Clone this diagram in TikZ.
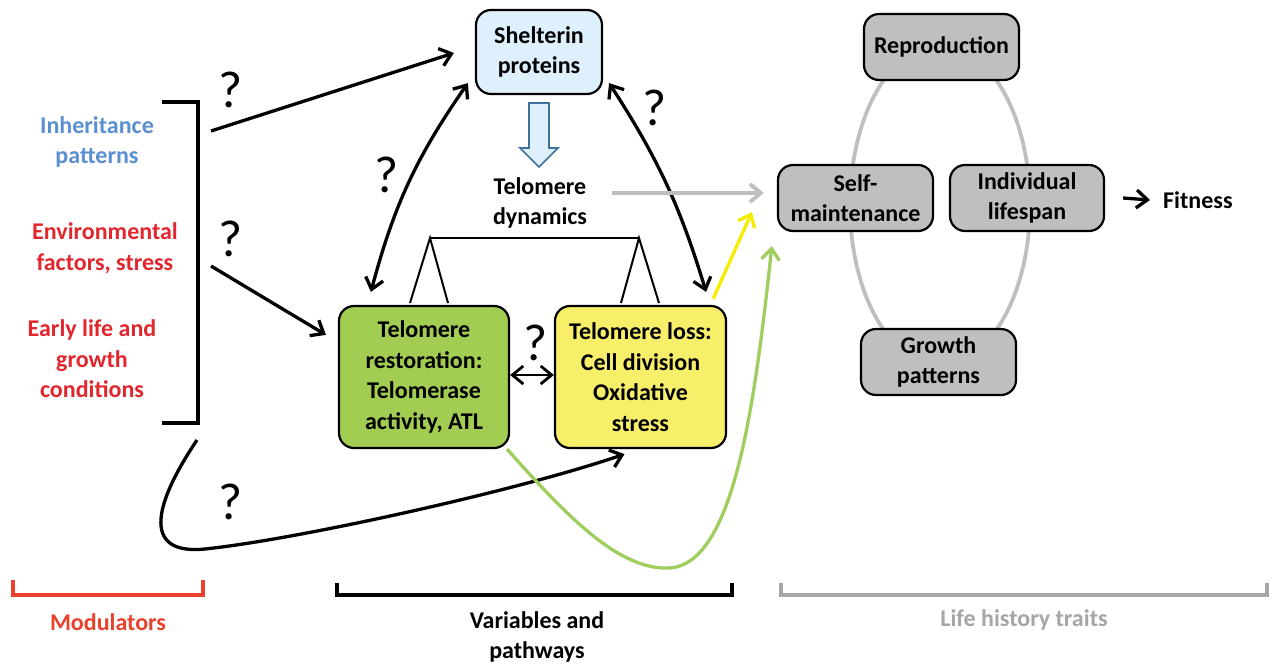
\documentclass[tikz,border=0pt]{standalone}
\usepackage{fontspec}
\setmainfont{Carlito}
\usetikzlibrary{arrows.meta}
\definecolor{shelblue}{HTML}{DDF0FB}
\definecolor{arrblue}{HTML}{41719C}
\definecolor{greenbox}{HTML}{A2CC52}
\definecolor{yellowbox}{HTML}{F7EE6A}
\definecolor{graybox}{HTML}{BFBFBF}
\definecolor{inhblue}{HTML}{5A8FD2}
\definecolor{envred}{HTML}{E2262D}
\definecolor{modred}{HTML}{E8412C}
\definecolor{lhgray}{HTML}{A6A6A6}
\definecolor{brightyellow}{HTML}{F5EC00}
\definecolor{lightgreen}{HTML}{9FCE5E}
\tikzset{
  txt/.style={font=\fontsize{24}{30.5}\selectfont\bfseries, align=center, inner sep=0pt},
  qm/.style={font=\fontsize{52}{56}\selectfont, inner sep=0pt},
  box/.style={txt, draw=black, line width=2.2pt, rounded corners=15pt},
  tip/.style={-{Straight Barb[length=11pt,width=18pt]}},
  dtip/.style={{Straight Barb[length=11pt,width=18pt]}-{Straight Barb[length=11pt,width=18pt]}},
  blk/.style={line width=3.3pt, black},
}
\begin{document}
\begin{tikzpicture}[x=1pt,y=-1pt]
\useasboundingbox (0,0) rectangle (1279,664);
\fill[white] (0,0) rectangle (1279,664);

% life history ellipse
\draw[graybox, line width=3.8pt] (940,205) ellipse [x radius=90, y radius=160];

% boxes
\node[box, fill=shelblue, minimum width=126pt, minimum height=84pt] (shel) at (539,52) {Shelterin\\proteins};
\node[box, fill=greenbox, minimum width=170pt, minimum height=142pt] (green) at (424,377) {Telomere\\restoration:\\Telomerase\\activity, ATL};
\node[box, fill=yellowbox, minimum width=171pt, minimum height=142pt] (yellow) at (640.5,377) {Telomere loss:\\Cell division\\Oxidative\\stress};
\node[box, fill=graybox, minimum width=155pt, minimum height=66pt] (repro) at (941.5,47) {Reproduction};
\node[box, fill=graybox, minimum width=155pt, minimum height=66pt] (selfm) at (855.5,198) {Self-\\maintenance};
\node[box, fill=graybox, minimum width=154pt, minimum height=66pt] (life) at (1027,198) {Individual\\lifespan};
\node[box, fill=graybox, minimum width=155pt, minimum height=66pt] (growth) at (938.5,362) {Growth\\patterns};
\node[txt, anchor=west] (fit) at (1163,200) {Fitness};

% telomere dynamics
\node[txt] (tdyn) at (540,203) {Telomere\\dynamics};
\draw[line width=2pt, line join=miter] (410,303) -- (430,238) -- (448,303);
\draw[line width=2pt, line join=miter] (621,303) -- (639,238) -- (659,303);
\draw[line width=2pt] (430,238) -- (639,238);

% block arrow
\draw[arrblue, fill=shelblue, line width=1.6pt, line join=miter] (529,103) -- (549,103) -- (549,148) -- (558,148) -- (539,167) -- (520,148) -- (529,148) -- cycle;

% left texts
\node[txt, text=inhblue] (inh) at (97,142) {Inheritance\\patterns};
\node[txt, text=envred] (env) at (105,248) {Environmental\\factors, stress};
\node[txt, text=envred] (early) at (92,359) {Early life and\\growth\\conditions};

% left bracket
\draw[line width=4.8pt, line join=miter] (162,102) -- (198,102) -- (198,423) -- (162,423);

% coordinates for free ends
\coordinate (m1) at (211,131);
\coordinate (m2) at (211,266);
\coordinate (m3) at (197,440);
\coordinate (ga) at (612,193);

% arrows
\draw[blk, tip] (m1) -- ([shift={(-21,1)}]shel.west);
\draw[blk, tip] (m2) -- ([shift={(-12,30)}]green.north west);
\draw[blk, dtip] ([shift={(-7,-12)}]shel.south west) to[bend right=10] ([shift={(33,-13)}]green.north west);
\draw[blk, dtip] ([shift={(6,-12)}]shel.south east) to[bend left=8] ([shift={(-21,-13)}]yellow.north east);
\draw[line width=2.8pt, dtip] (green.east |- 0,375) -- (yellow.west |- 0,375);
\draw[blk, tip] (m3) .. controls (150,510) and (145,555) .. (205,549) .. controls (300,539) and (520,490) .. ([shift={(-16,5)}]yellow.south);
\draw[line width=3.3pt, lightgreen, tip] ([shift={(-3,0)}]green.south east) .. controls (570,520) and (620,570) .. (669,568) .. controls (735,565) and (755,400) .. ([shift={(-5,14)}]selfm.south west);
\draw[line width=3.3pt, brightyellow, tip] ([shift={(-14,-6)}]yellow.north east) -- ([shift={(-25,14)}]selfm.west);
\draw[line width=3.8pt, graybox, tip] (ga) -- ([xshift=-13pt]selfm.west |- ga);
\draw[blk, tip] ([xshift=18pt]life.east) -- ([xshift=-13pt]fit.west);

% question marks
\node[qm] (q1) at (231,90) {?};
\node[qm] (q2) at (231,239) {?};
\node[qm] (q3) at (387,175) {?};
\node[qm] (q4) at (655,108) {?};
\node[qm] (q5) at (536,343) {?};
\node[qm] (q6) at (231,502) {?};

% bottom brackets
\draw[modred, line width=3.2pt] (13,580) -- (13,595) -- (203,595) -- (203,580);
\draw[black, line width=3.2pt] (337,583) -- (337,595) -- (732,595) -- (732,583);
\draw[lhgray, line width=3.2pt] (781,583) -- (781,595) -- (1267,595) -- (1267,583);
\node[txt, text=modred] (modl) at (108,622) {Modulators};
\node[txt] (varl) at (537,637) {Variables and\\pathways};
\node[txt, text=lhgray] (lhl) at (1024,620) {Life history traits};
\end{tikzpicture}
\end{document}
